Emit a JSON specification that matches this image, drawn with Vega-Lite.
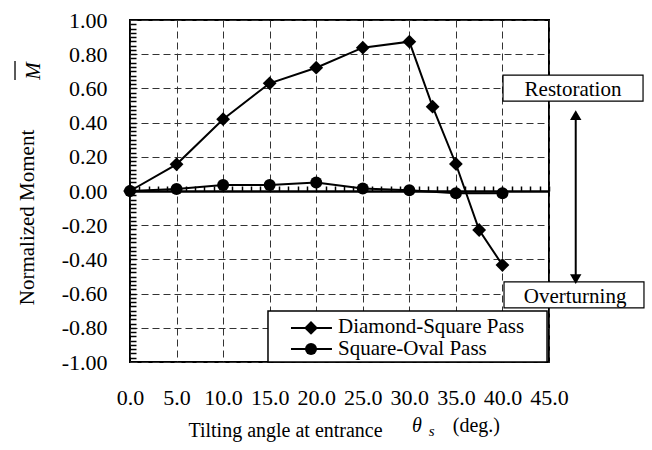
{
  "$schema": "https://vega.github.io/schema/vega-lite/v6.json",
  "width": 419,
  "height": 342,
  "autosize": {"type": "none"},
  "padding": {"left": 130, "top": 20, "right": 103, "bottom": 88},
  "background": "white",
  "config": {
    "view": {"stroke": "black", "strokeWidth": 2},
    "font": "Liberation Serif",
    "text": {"font": "Liberation Serif", "color": "black"}
  },
  "datasets": {
    "moment": [
      {"series": "Diamond-Square Pass", "angle": 0, "moment": 0.0},
      {"series": "Diamond-Square Pass", "angle": 5, "moment": 0.156},
      {"series": "Diamond-Square Pass", "angle": 10, "moment": 0.42},
      {"series": "Diamond-Square Pass", "angle": 15, "moment": 0.63},
      {"series": "Diamond-Square Pass", "angle": 20, "moment": 0.721},
      {"series": "Diamond-Square Pass", "angle": 25, "moment": 0.838},
      {"series": "Diamond-Square Pass", "angle": 30, "moment": 0.873},
      {"series": "Diamond-Square Pass", "angle": 32.5, "moment": 0.493},
      {"series": "Diamond-Square Pass", "angle": 35, "moment": 0.158},
      {"series": "Diamond-Square Pass", "angle": 37.5, "moment": -0.228},
      {"series": "Diamond-Square Pass", "angle": 40, "moment": -0.433},
      {"series": "Square-Oval Pass", "angle": 0, "moment": 0.0},
      {"series": "Square-Oval Pass", "angle": 5, "moment": 0.012},
      {"series": "Square-Oval Pass", "angle": 10, "moment": 0.035},
      {"series": "Square-Oval Pass", "angle": 15, "moment": 0.035},
      {"series": "Square-Oval Pass", "angle": 20, "moment": 0.05},
      {"series": "Square-Oval Pass", "angle": 25, "moment": 0.015},
      {"series": "Square-Oval Pass", "angle": 30, "moment": 0.005},
      {"series": "Square-Oval Pass", "angle": 35, "moment": -0.013},
      {"series": "Square-Oval Pass", "angle": 40, "moment": -0.013}
    ],
    "one": [{}]
  },
  "resolve": {"axis": {"x": "independent", "y": "independent"}},
  "layer": [
    {
      "data": {"name": "moment"},
      "mark": {"type": "line", "color": "black", "strokeWidth": 2},
      "encoding": {
        "x": {
          "field": "angle", "type": "quantitative",
          "scale": {"domain": [0, 45], "nice": false, "zero": false},
          "axis": {
            "orient": "bottom", "values": [0, 5, 10, 15, 20, 25, 30, 35, 40, 45], "format": ".1f",
            "domain": false, "ticks": false, "tickSize": 0, "labelPadding": 25,
            "labelFont": "Liberation Serif", "labelFontSize": 22, "labelColor": "black",
            "labelFlush": false, "labelOverlap": false,
            "grid": true, "gridDash": [7, 4], "gridColor": "#333333", "gridWidth": 1,
            "title": "Tilting angle at entrance", "titleFont": "Liberation Serif", "titleFontSize": 20,
            "titleFontWeight": "normal", "titleColor": "black", "titleX": 155, "titleY": 74,
            "titleAlign": "center", "titleBaseline": "alphabetic", "zindex": 0
          }
        },
        "y": {
          "field": "moment", "type": "quantitative",
          "scale": {"domain": [-1, 1], "nice": false, "zero": false},
          "axis": {
            "orient": "left", "values": [-1, -0.8, -0.6, -0.4, -0.2, 0, 0.2, 0.4, 0.6, 0.8, 1],
            "labelExpr": "replace(format(datum.value, '.2f'), '\u2212', '-')",
            "domain": false, "ticks": false, "tickSize": 0, "labelPadding": 23,
            "labelFont": "Liberation Serif", "labelFontSize": 22, "labelColor": "black",
            "labelFlush": false, "labelOverlap": false,
            "grid": true, "gridDash": [7, 4], "gridColor": "#333333", "gridWidth": 1,
            "title": "Normalized  Moment", "titleFont": "Liberation Serif", "titleFontSize": 21,
            "titleFontWeight": "normal", "titleColor": "black", "titleAngle": -90,
            "titleX": -97, "titleY": 197, "titleAlign": "center", "titleBaseline": "alphabetic", "zindex": 0
          }
        },
        "detail": {"field": "series"},
        "order": {"field": "angle", "type": "quantitative"}
      }
    },
    {
      "data": {"name": "moment"},
      "mark": {"type": "point", "filled": true, "opacity": 1, "color": "black", "strokeWidth": 0},
      "encoding": {
        "x": {
          "field": "angle", "type": "quantitative",
          "scale": {"domain": [0, 45], "nice": false, "zero": false},
          "axis": {
            "orient": "top", "offset": -171,
            "values": [0,1,2,3,4,5,6,7,8,9,10,11,12,13,14,15,16,17,18,19,20,21,22,23,24,25,26,27,28,29,30,31,32,33,34,35,36,37,38,39,40,41,42,43,44,45],
            "domain": true, "domainColor": "black", "domainWidth": 2.5,
            "ticks": true, "tickSize": 5, "tickWidth": 1.5, "tickColor": "black",
            "labels": false, "grid": false, "title": null, "zindex": 0
          }
        },
        "y": {
          "field": "moment", "type": "quantitative",
          "scale": {"domain": [-1, 1], "nice": false, "zero": false},
          "axis": {
            "orient": "left",
            "values": [-0.975,-0.95,-0.925,-0.9,-0.875,-0.85,-0.825,-0.8,-0.775,-0.75,-0.725,-0.7,-0.675,-0.65,-0.625,-0.6,-0.575,-0.55,-0.525,-0.5,-0.475,-0.45,-0.425,-0.4,-0.375,-0.35,-0.325,-0.3,-0.275,-0.25,-0.225,-0.2,-0.175,-0.15,-0.125,-0.1,-0.075,-0.05,-0.025,0,0.025,0.05,0.075,0.1,0.125,0.15,0.175,0.2,0.225,0.25,0.275,0.3,0.325,0.35,0.375,0.4,0.425,0.45,0.475,0.5,0.525,0.55,0.575,0.6,0.625,0.65,0.675,0.7,0.725,0.75,0.775,0.8,0.825,0.85,0.875,0.9,0.925,0.95,0.975],
            "domain": false, "ticks": true, "tickSize": -6, "tickWidth": 1.5, "tickColor": "black",
            "labels": false, "grid": false, "title": null, "zindex": 0
          }
        },
        "shape": {"field": "series", "scale": {"domain": ["Diamond-Square Pass", "Square-Oval Pass"], "range": ["diamond", "circle"]}, "legend": null},
        "size": {"field": "series", "scale": {"domain": ["Diamond-Square Pass", "Square-Oval Pass"], "range": [190, 144]}, "legend": null}
      }
    },
    {
      "data": {"name": "one"},
      "mark": {"type": "rect", "fill": "white", "stroke": "black", "strokeWidth": 1.5},
      "encoding": {
        "x": {"datum": 14.82, "type": "quantitative", "scale": {"domain": [0, 45]}, "axis": null},
        "x2": {"datum": 44.79},
        "y": {"datum": -0.702, "type": "quantitative", "scale": {"domain": [-1, 1]}, "axis": null},
        "y2": {"datum": -1.0}
      }
    },
    {
      "data": {"name": "one"},
      "mark": {"type": "rule", "color": "black", "strokeWidth": 2},
      "encoding": {
        "x": {"datum": 17.29, "type": "quantitative", "scale": {"domain": [0, 45]}, "axis": null},
        "x2": {"datum": 21.69},
        "y": {"datum": -0.801, "type": "quantitative", "scale": {"domain": [-1, 1]}, "axis": null}
      }
    },
    {
      "data": {"name": "one"},
      "mark": {"type": "rule", "color": "black", "strokeWidth": 2},
      "encoding": {
        "x": {"datum": 17.29, "type": "quantitative", "scale": {"domain": [0, 45]}, "axis": null},
        "x2": {"datum": 21.69},
        "y": {"datum": -0.924, "type": "quantitative", "scale": {"domain": [-1, 1]}, "axis": null}
      }
    },
    {
      "data": {"name": "one"},
      "mark": {"type": "point", "filled": true, "opacity": 1, "color": "black", "strokeWidth": 0},
      "encoding": {
        "x": {"datum": 19.44, "type": "quantitative", "scale": {"domain": [0, 45]}, "axis": null},
        "y": {"datum": -0.801, "type": "quantitative", "scale": {"domain": [-1, 1]}, "axis": null},
        "shape": {"datum": "Diamond-Square Pass", "legend": null},
        "size": {"datum": "Diamond-Square Pass", "legend": null}
      }
    },
    {
      "data": {"name": "one"},
      "mark": {"type": "point", "filled": true, "opacity": 1, "color": "black", "strokeWidth": 0},
      "encoding": {
        "x": {"datum": 19.44, "type": "quantitative", "scale": {"domain": [0, 45]}, "axis": null},
        "y": {"datum": -0.924, "type": "quantitative", "scale": {"domain": [-1, 1]}, "axis": null},
        "shape": {"datum": "Square-Oval Pass", "legend": null},
        "size": {"datum": "Square-Oval Pass", "legend": null}
      }
    },
    {
      "data": {"name": "one"},
      "mark": {"type": "text", "text": "Diamond-Square Pass", "fontSize": 21, "align": "left", "baseline": "alphabetic", "color": "black"},
      "encoding": {
        "x": {"datum": 22.34, "type": "quantitative", "scale": {"domain": [0, 45]}, "axis": null},
        "y": {"datum": -0.833, "type": "quantitative", "scale": {"domain": [-1, 1]}, "axis": null}
      }
    },
    {
      "data": {"name": "one"},
      "mark": {"type": "text", "text": "Square-Oval Pass", "fontSize": 21, "align": "left", "baseline": "alphabetic", "color": "black"},
      "encoding": {
        "x": {"datum": 22.34, "type": "quantitative", "scale": {"domain": [0, 45]}, "axis": null},
        "y": {"datum": -0.959, "type": "quantitative", "scale": {"domain": [-1, 1]}, "axis": null}
      }
    },
    {
      "data": {"name": "one"},
      "mark": {"type": "rect", "fill": "white", "stroke": "black", "strokeWidth": 1.2},
      "encoding": {
        "x": {"datum": 40.06, "type": "quantitative", "scale": {"domain": [0, 45]}, "axis": null},
        "x2": {"datum": 55.1},
        "y": {"datum": 0.678, "type": "quantitative", "scale": {"domain": [-1, 1]}, "axis": null},
        "y2": {"datum": 0.526}
      }
    },
    {
      "data": {"name": "one"},
      "mark": {"type": "text", "text": "Restoration", "fontSize": 21, "align": "center", "baseline": "alphabetic", "color": "black"},
      "encoding": {
        "x": {"datum": 47.58, "type": "quantitative", "scale": {"domain": [0, 45]}, "axis": null},
        "y": {"datum": 0.556, "type": "quantitative", "scale": {"domain": [-1, 1]}, "axis": null}
      }
    },
    {
      "data": {"name": "one"},
      "mark": {"type": "rect", "fill": "white", "stroke": "black", "strokeWidth": 1.2},
      "encoding": {
        "x": {"datum": 40.17, "type": "quantitative", "scale": {"domain": [0, 45]}, "axis": null},
        "x2": {"datum": 55.2},
        "y": {"datum": -0.532, "type": "quantitative", "scale": {"domain": [-1, 1]}, "axis": null},
        "y2": {"datum": -0.684}
      }
    },
    {
      "data": {"name": "one"},
      "mark": {"type": "text", "text": "Overturning", "fontSize": 21, "align": "center", "baseline": "alphabetic", "color": "black"},
      "encoding": {
        "x": {"datum": 47.8, "type": "quantitative", "scale": {"domain": [0, 45]}, "axis": null},
        "y": {"datum": -0.655, "type": "quantitative", "scale": {"domain": [-1, 1]}, "axis": null}
      }
    },
    {
      "data": {"name": "one"},
      "mark": {"type": "rule", "color": "black", "strokeWidth": 2},
      "encoding": {
        "x": {"datum": 47.87, "type": "quantitative", "scale": {"domain": [0, 45]}, "axis": null},
        "y": {"datum": 0.444, "type": "quantitative", "scale": {"domain": [-1, 1]}, "axis": null},
        "y2": {"datum": -0.515}
      }
    },
    {
      "data": {"name": "one"},
      "mark": {"type": "point", "shape": "triangle-up", "size": 130, "filled": true, "opacity": 1, "color": "black", "strokeWidth": 0},
      "encoding": {
        "x": {"datum": 47.87, "type": "quantitative", "scale": {"domain": [0, 45]}, "axis": null},
        "y": {"datum": 0.444, "type": "quantitative", "scale": {"domain": [-1, 1]}, "axis": null}
      }
    },
    {
      "data": {"name": "one"},
      "mark": {"type": "point", "shape": "triangle-down", "size": 130, "filled": true, "opacity": 1, "color": "black", "strokeWidth": 0},
      "encoding": {
        "x": {"datum": 47.87, "type": "quantitative", "scale": {"domain": [0, 45]}, "axis": null},
        "y": {"datum": -0.515, "type": "quantitative", "scale": {"domain": [-1, 1]}, "axis": null}
      }
    },
    {
      "data": {"name": "one"},
      "mark": {"type": "text", "text": "M", "fontSize": 21, "fontStyle": "italic", "angle": -90, "align": "center", "baseline": "middle", "color": "black"},
      "encoding": {
        "x": {"datum": -10.31, "type": "quantitative", "scale": {"domain": [0, 45]}, "axis": null},
        "y": {"datum": 0.702, "type": "quantitative", "scale": {"domain": [-1, 1]}, "axis": null}
      }
    },
    {
      "data": {"name": "one"},
      "mark": {"type": "rule", "color": "black", "strokeWidth": 1.3},
      "encoding": {
        "x": {"datum": -12.35, "type": "quantitative", "scale": {"domain": [0, 45]}, "axis": null},
        "y": {"datum": 0.76, "type": "quantitative", "scale": {"domain": [-1, 1]}, "axis": null},
        "y2": {"datum": 0.649}
      }
    },
    {
      "data": {"name": "one"},
      "mark": {"type": "text", "text": "θ", "fontSize": 20, "fontStyle": "italic", "align": "center", "baseline": "alphabetic", "color": "black"},
      "encoding": {
        "x": {"datum": 30.8, "type": "quantitative", "scale": {"domain": [0, 45]}, "axis": null},
        "y": {"datum": -1.41, "type": "quantitative", "scale": {"domain": [-1, 1]}, "axis": null}
      }
    },
    {
      "data": {"name": "one"},
      "mark": {"type": "text", "text": "s", "fontSize": 15, "fontStyle": "italic", "align": "center", "baseline": "alphabetic", "color": "black"},
      "encoding": {
        "x": {"datum": 32.4, "type": "quantitative", "scale": {"domain": [0, 45]}, "axis": null},
        "y": {"datum": -1.43, "type": "quantitative", "scale": {"domain": [-1, 1]}, "axis": null}
      }
    },
    {
      "data": {"name": "one"},
      "mark": {"type": "text", "text": "(deg.)", "fontSize": 20, "align": "center", "baseline": "alphabetic", "color": "black"},
      "encoding": {
        "x": {"datum": 37.2, "type": "quantitative", "scale": {"domain": [0, 45]}, "axis": null},
        "y": {"datum": -1.41, "type": "quantitative", "scale": {"domain": [-1, 1]}, "axis": null}
      }
    }
  ]
}
